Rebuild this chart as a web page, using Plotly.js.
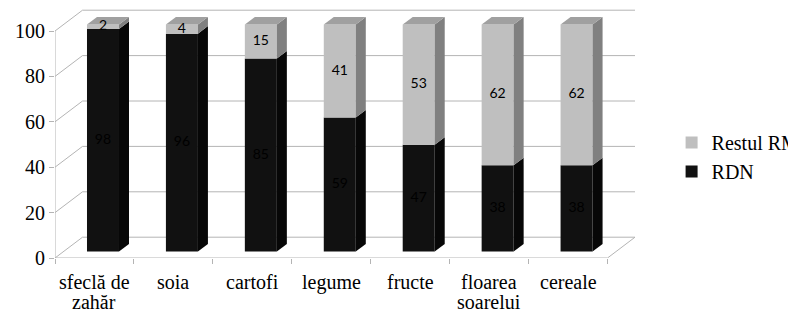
<!DOCTYPE html>
<html>
<head>
<meta charset="utf-8">
<script src="https://cdn.plot.ly/plotly-3.0.1.min.js"></script>
<style>html,body{margin:0;padding:0;background:#fff;}#chart{width:788px;height:310px;}
#prime{position:absolute;left:-3000px;top:0;white-space:nowrap;}
#prime .s{font-family:'Liberation Serif';font-size:20px;}
#prime .l{font-family:'Lato';font-size:14px;}</style>
</head>
<body>
<div id="prime"><span class="s">sfeclă de zahăr Restul RM RDN 0123456789</span><span class="l">0123456789</span></div>
<div id="chart"></div>
<script>
// ---- data ----
const categories = ['sfeclă de<br>zahăr', 'soia', 'cartofi', 'legume', 'fructe', 'floarea<br>soarelui', 'cereale'];
const rdn = [98, 96, 85, 59, 47, 38, 38];
const restul = [2, 4, 15, 41, 53, 62, 62];
const yTicks = [0, 20, 40, 60, 80, 100];
const seriesNames = ['RDN', 'Restul RM'];

// ---- geometry / style ----
const W = 788, H = 310;
const M = {l: 55, r: 148, t: 5, b: 52, autoexpand: false};
const plotW = W - M.l - M.r, plotH = H - M.t - M.b;
const PXU = 78.93;           // px per category
const PXV = 2.27;            // px per value unit
const du = 27.5 / PXU;       // full depth (x)
const dv = 20.8 / PXV;       // full depth (y)
const f0 = 0.31;             // bar front position in depth
const fs = 0.364;            // bar depth
const barW = 32 / PXU;
const ox = f0 * du, oy = f0 * dv;
const sx = fs * du, sy = fs * dv;
const n = categories.length;
const xMin = -0.5, xMax = n - 0.5;
const gridColor = '#b4b4b4';
const FONT_SERIF = 'Liberation Serif';
const FONT_LABEL = 'Lato';
const colors = {
  dark: {front: '#111111', side: '#070707', top: '#1a1a1a'},
  light: {front: '#bfbfbf', side: '#808080', top: '#a0a0a0'}
};

// force font matching before drawing
void document.getElementById('prime').offsetWidth;

const idx = categories.map((_, i) => i);
const traces = [];
const seriesVals = [rdn, restul];
const seriesCol = [colors.dark, colors.light];

// front faces (bars)
seriesVals.forEach((vals, s) => {
  const bases = vals.map((v, i) => oy + (s === 0 ? 0 : rdn[i]));
  traces.push({
    type: 'bar', name: seriesNames[s],
    x: idx.map(i => i + ox), y: vals, base: bases, width: barW,
    marker: {color: seriesCol[s].front, line: {width: 0}},
    hoverinfo: 'skip', textposition: 'none'
  });
});

// side and top faces
seriesVals.forEach((vals, s) => {
  vals.forEach((v, i) => {
    const b = oy + (s === 0 ? 0 : rdn[i]);
    const t = b + v;
    const L = i + ox - barW / 2, R = i + ox + barW / 2;
    traces.push({
      type: 'scatter', mode: 'lines', fill: 'toself', showlegend: false, hoverinfo: 'skip',
      x: [R, R + sx, R + sx, R, R], y: [b, b + sy, t + sy, t, b],
      fillcolor: seriesCol[s].side, line: {width: 0}
    });
    if (s === seriesVals.length - 1) {
      traces.push({
        type: 'scatter', mode: 'lines', fill: 'toself', showlegend: false, hoverinfo: 'skip',
        x: [L, L + sx, R + sx, R, L], y: [t, t + sy, t + sy, t, t],
        fillcolor: seriesCol[s].top, line: {width: 0}
      });
    }
  });
});

// data labels
seriesVals.forEach((vals, s) => {
  traces.push({
    type: 'scatter', mode: 'text', showlegend: false, hoverinfo: 'skip',
    x: idx.map(i => i + ox),
    y: vals.map((v, i) => oy + (s === 0 ? 0 : rdn[i]) + v / 2),
    text: vals.map(String),
    textposition: 'middle center',
    textfont: {family: FONT_LABEL, size: 14, color: '#000'},
    cliponaxis: false
  });
});

// walls, floor, value axis line
const shapes = [];
const ln = (x0, y0, x1, y1) => shapes.push({type: 'line', xref: 'x', yref: 'y', layer: 'below',
  x0, y0, x1, y1, line: {color: gridColor, width: 1}});
yTicks.forEach(v => {
  ln(xMin + du, v + dv, xMax + du, v + dv);
  ln(xMin, v, xMin + du, v + dv);
});
ln(xMin, 0, xMax, 0);
ln(xMax, 0, xMax + du, dv);
ln(xMin, 0, xMin, yTicks[yTicks.length - 1]);

// category labels
const annotations = [];
categories.forEach((c, i) => {
  c.split('<br>').forEach((line, k) => {
    annotations.push({
      xref: 'x', yref: 'paper', x: i, y: -(24 + 20 * k) / plotH,
      text: line, showarrow: false, xanchor: 'center', yanchor: 'middle',
      font: {family: FONT_SERIF, size: 20, color: '#000'}
    });
  });
});

function makeLayout() {
  return {
    width: W, height: H, margin: Object.assign({}, M),
    paper_bgcolor: '#fff', plot_bgcolor: 'rgba(0,0,0,0)',
    barmode: 'overlay', showlegend: true,
    font: {family: FONT_SERIF, size: 20, color: '#000'},
    xaxis: {range: [xMin, xMin + plotW / PXU], tickvals: [...idx.map(i => i - 0.5), xMax],
      ticks: 'outside', ticklen: 5, tickcolor: gridColor, showticklabels: false,
      showgrid: false, zeroline: false, showline: false, fixedrange: true},
    yaxis: {range: [0, plotH / PXV], tickvals: yTicks, ticktext: yTicks.map(String),
      ticks: 'outside', ticklen: 5, tickcolor: gridColor,
      tickfont: {family: FONT_SERIF, size: 20, color: '#000'},
      showgrid: false, zeroline: false, showline: false, fixedrange: true},
    legend: {x: 1.054, xanchor: 'left', y: 0.534, yanchor: 'top', traceorder: 'reversed',
      font: {family: FONT_SERIF, size: 20, color: '#000'}, bgcolor: 'rgba(0,0,0,0)'},
    shapes: shapes.map(s => Object.assign({}, s)),
    annotations: annotations.map(a => Object.assign({}, a))
  };
}

function draw() {
  return Plotly.newPlot('chart', traces, makeLayout(), {displayModeBar: false});
}
draw();
if (document.fonts && document.fonts.ready) {
  document.fonts.ready.then(() => draw());
}
</script>
</body>
</html>
